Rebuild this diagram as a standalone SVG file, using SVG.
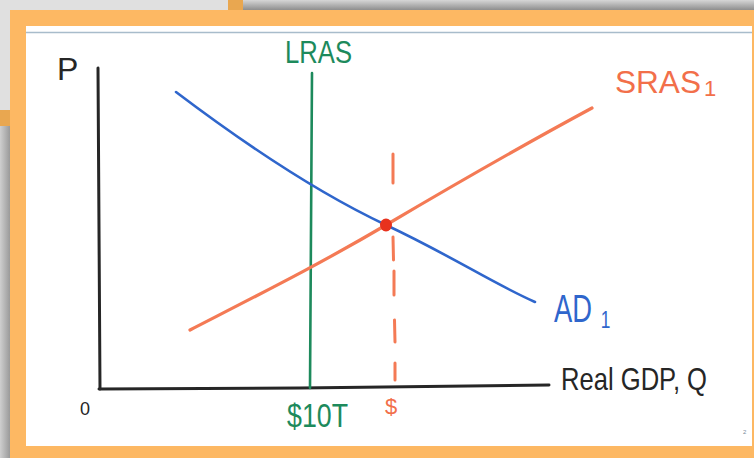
<svg xmlns="http://www.w3.org/2000/svg" width="754" height="458" viewBox="0 0 754 458">
<defs>
<linearGradient id="topShade" x1="0" y1="0" x2="0" y2="1">
<stop offset="0" stop-color="#d6d6d6"/>
<stop offset="1" stop-color="#8e8e8e"/>
</linearGradient>
<linearGradient id="leftShade" x1="0" y1="0" x2="1" y2="0">
<stop offset="0" stop-color="#cfcfcf"/>
<stop offset="1" stop-color="#9a9a9a"/>
</linearGradient>
<style>
.hand{font-family:"Liberation Sans","DejaVu Sans",sans-serif;}
.axis{stroke:#262626;stroke-width:3;fill:none;stroke-linecap:round;}
.sras{stroke:#f47a55;stroke-width:3.2;fill:none;stroke-linecap:round;stroke-linejoin:round;}
.ad{stroke:#2f66cc;stroke-width:2.6;fill:none;stroke-linecap:round;}
.lras{stroke:#1d8a5c;stroke-width:2.6;fill:none;stroke-linecap:round;}
.dash{stroke:#f47a55;stroke-width:3;stroke-linecap:round;}
</style>
</defs>

<g id="background">
<rect x="0" y="0" width="754" height="458" fill="#c4c4c4"/>
<rect x="0" y="0" width="754" height="10" fill="url(#topShade)"/>
<rect x="0" y="0" width="10" height="458" fill="url(#leftShade)"/>
<rect x="0" y="0" width="228" height="110" fill="#e0e0e0"/>
<rect x="228" y="0" width="15" height="10" fill="#e9a750"/>
<rect x="0" y="110" width="10" height="16" fill="#e9a750"/>
</g>

<g id="frame">
<rect x="10" y="10" width="744" height="448" fill="#fdb863"/>
<rect x="26" y="26" width="726" height="420" fill="#ffffff"/>
<line x1="26" y1="32.5" x2="752" y2="32.5" stroke="#a8bccb" stroke-width="1.6"/>
</g>

<g id="axes">
<path class="axis" d="M98,68 L100,389"/>
<path class="axis" d="M99,389 L300,388 L549,385"/>
<text class="hand" x="57" y="80" font-size="32" fill="#262626">P</text>
<text class="hand" x="80" y="415" font-size="18" fill="#262626">0</text>
<text class="hand" x="561" y="390" font-size="32" fill="#262626" textLength="146" lengthAdjust="spacingAndGlyphs">Real GDP, Q</text>
</g>

<g id="lras">
<path class="lras" d="M312,73 L310,388"/>
<text class="hand" x="285" y="63" font-size="32" fill="#1d8a5c" textLength="67" lengthAdjust="spacingAndGlyphs">LRAS</text>
<text class="hand" x="287" y="427" font-size="34" fill="#1d8a5c" textLength="61" lengthAdjust="spacingAndGlyphs">$10T</text>
</g>

<g id="sras">
<path class="sras" d="M190,330 C260,294 320,264 386,225 S540,136 592,108"/>
<text class="hand" x="615" y="93" font-size="32" fill="#f26f4a" textLength="86" lengthAdjust="spacingAndGlyphs">SRAS</text>
<text class="hand" x="704" y="96" font-size="22" fill="#f26f4a">1</text>
</g>

<g id="ad">
<path class="ad" d="M176,92 C250,148 320,194 386,225 S490,282 535,302"/>
<text class="hand" transform="translate(554,322) scale(0.72,1)" font-size="38" fill="#2f66cc">AD<tspan dx="12" dy="6" font-size="24">1</tspan></text>
</g>

<g id="equilibrium">
<line class="dash" x1="393" y1="154" x2="393" y2="183"/>
<line class="dash" x1="393" y1="237" x2="393.5" y2="260"/>
<line class="dash" x1="394" y1="271" x2="394" y2="295"/>
<line class="dash" x1="394.5" y1="320" x2="395" y2="342"/>
<line class="dash" x1="395" y1="363" x2="395" y2="380"/>
<ellipse cx="386" cy="225" rx="6" ry="6.5" fill="#e8321e"/>
<text class="hand" x="385" y="414" font-size="22" fill="#f26f4a">$</text>
</g>

<g id="page-number">
<text class="hand" x="743" y="434" font-size="6" fill="#7a8a9a">2</text>
</g>
</svg>
